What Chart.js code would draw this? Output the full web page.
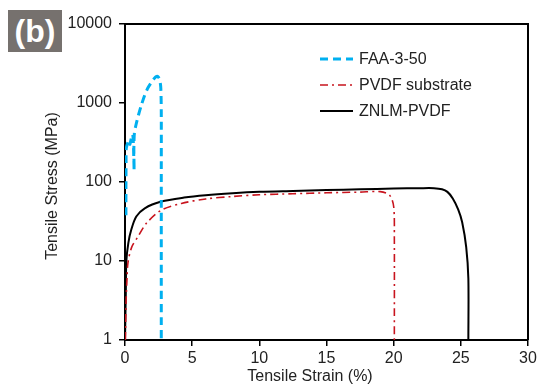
<!DOCTYPE html>
<html>
<head>
<meta charset="utf-8">
<script src="https://cdn.jsdelivr.net/npm/chart.js@4"></script>
<style>
  html, body { margin: 0; padding: 0; background: #fff; }
  #wrap { position: relative; width: 542px; height: 390px; }
  #tag {
    position: absolute; left: 8px; top: 10px; width: 54px; height: 42px;
    background: rgb(118, 113, 110); color: #fff;
    font: bold 32px "Liberation Sans", Arial, sans-serif;
    line-height: 42px; text-align: center;
  }
</style>
</head>
<body>
<div id="wrap">
  <canvas id="chart" width="542" height="390"></canvas>
  <div id="tag">(b)</div>
</div>
<script>
// FAA-3-50
const faaStrain = [0.07, 0.07, 0.08, 0.1, 0.3, 0.36, 0.42, 0.55, 0.6, 0.64, 0.68, 0.66, 0.7, 0.82, 1.0, 1.2, 1.47, 1.7, 1.94, 2.15, 2.3, 2.42, 2.56, 2.66, 2.7, 2.7, 2.7, 2.7];
const faaStress = [38, 90, 180, 270, 340, 300, 330, 400, 370, 250, 140, 260, 420, 530, 700, 920, 1260, 1550, 1800, 2020, 2150, 2180, 2020, 1600, 800, 100, 10, 1];

// PVDF substrate
const pvdfStrain = [0.03, 0.08, 0.15, 0.22, 0.5, 0.97, 1.59, 2.7, 4.2, 6, 8, 10, 12.5, 15, 17.5, 19, 19.7, 20.0, 20.05, 20.05];
const pvdfStress = [1, 3, 6, 9.5, 15, 20.4, 30, 44, 53.5, 61, 65.5, 69, 71, 73, 74.5, 75.5, 68, 49, 20, 1];

// ZNLM-PVDF
const znlmStrain = [0, 0.03, 0.06, 0.1, 0.25, 0.47, 0.84, 1.47, 2.7, 4.4, 6, 8, 10, 12.5, 15, 17.5, 20, 22, 23, 23.6, 24.0, 24.4, 24.8, 25.1, 25.4, 25.56, 25.56];
const znlmStress = [1, 2, 4, 10, 17, 25, 36.5, 46.5, 56.5, 63.5, 68, 72, 75, 77, 79, 81, 82.5, 83.5, 83.5, 81, 75, 62, 45, 31, 15, 6, 1];

const xTicks = [0, 5, 10, 15, 20, 25, 30];
const yTicks = [1, 10, 100, 1000, 10000];

const FONT = '"Liberation Sans", Arial, sans-serif';
const TEXT = '#222';

const pts = (xs, ys) => xs.map((x, i) => ({ x: x, y: ys[i] }));

const frame = {
  id: 'frame',
  afterDraw(chart) {
    const { ctx, chartArea: a } = chart;
    ctx.save();
    ctx.strokeStyle = '#000';
    ctx.lineWidth = 2;
    ctx.beginPath();
    ctx.moveTo(a.left, a.top);
    ctx.lineTo(a.right, a.top);
    ctx.lineTo(a.right, a.bottom);
    ctx.stroke();

    // axis titles
    ctx.fillStyle = TEXT;
    ctx.font = '16px ' + FONT;
    ctx.textAlign = 'center';
    ctx.textBaseline = 'middle';
    ctx.fillText('Tensile Strain (%)', 310, 377);
    ctx.translate(53, 186);
    ctx.rotate(-Math.PI / 2);
    ctx.fillText('Tensile Stress (MPa)', 0, 0);
    ctx.restore();

    // legend
    ctx.save();
    const rows = [59, 85, 111];
    chart.data.datasets.forEach((ds, i) => {
      const y = rows[i];
      ctx.strokeStyle = ds.borderColor;
      ctx.lineWidth = ds.borderWidth;
      ctx.setLineDash(ds.borderDash || []);
      ctx.beginPath();
      ctx.moveTo(320, y);
      ctx.lineTo(353, y);
      ctx.stroke();
      ctx.setLineDash([]);
      ctx.fillStyle = TEXT;
      ctx.font = '16px ' + FONT;
      ctx.textAlign = 'left';
      ctx.textBaseline = 'middle';
      ctx.fillText(ds.label, 359, y + 1);
    });
    ctx.restore();
  }
};

new Chart(document.getElementById('chart'), {
  type: 'line',
  data: {
    datasets: [
      {
        label: 'FAA-3-50',
        data: pts(faaStrain, faaStress),
        borderColor: 'rgb(0, 176, 240)',
        borderWidth: 3,
        borderDash: [8, 5],
        tension: 0.25
      },
      {
        label: 'PVDF substrate',
        data: pts(pvdfStrain, pvdfStress),
        borderColor: 'rgb(200, 20, 30)',
        borderWidth: 1.6,
        borderDash: [8, 4, 2, 4],
        tension: 0.3
      },
      {
        label: 'ZNLM-PVDF',
        data: pts(znlmStrain, znlmStress),
        borderColor: '#000',
        borderWidth: 2,
        tension: 0.3
      }
    ]
  },
  options: {
    responsive: false,
    animation: false,
    elements: { point: { radius: 0 }, line: { fill: false, capBezierPoints: true } },
    layout: { padding: { left: 0, right: 14, top: 24, bottom: 0 } },
    plugins: {
      legend: { display: false },
      tooltip: { enabled: false }
    },
    scales: {
      x: {
        type: 'linear',
        min: 0,
        max: 30,
        afterFit: (s) => { s.height = 50; },
        afterBuildTicks: (s) => { s.ticks = xTicks.map(v => ({ value: v })); },
        border: { display: true, color: '#000', width: 2 },
        grid: { drawOnChartArea: false, drawTicks: true, tickLength: 6, color: '#000', lineWidth: 1.5 },
        ticks: { color: TEXT, font: { family: FONT, size: 16 }, padding: 3, maxRotation: 0 }
      },
      y: {
        type: 'logarithmic',
        min: 1,
        max: 10000,
        afterFit: (s) => { s.width = 125; },
        afterBuildTicks: (s) => { s.ticks = yTicks.map(v => ({ value: v })); },
        border: { display: true, color: '#000', width: 2 },
        grid: { drawOnChartArea: false, drawTicks: true, tickLength: 6, color: '#000', lineWidth: 1.5 },
        ticks: {
          color: TEXT,
          font: { family: FONT, size: 16 },
          padding: 7,
          callback: (v) => String(v)
        }
      }
    }
  },
  plugins: [frame]
});
</script>
</body>
</html>
